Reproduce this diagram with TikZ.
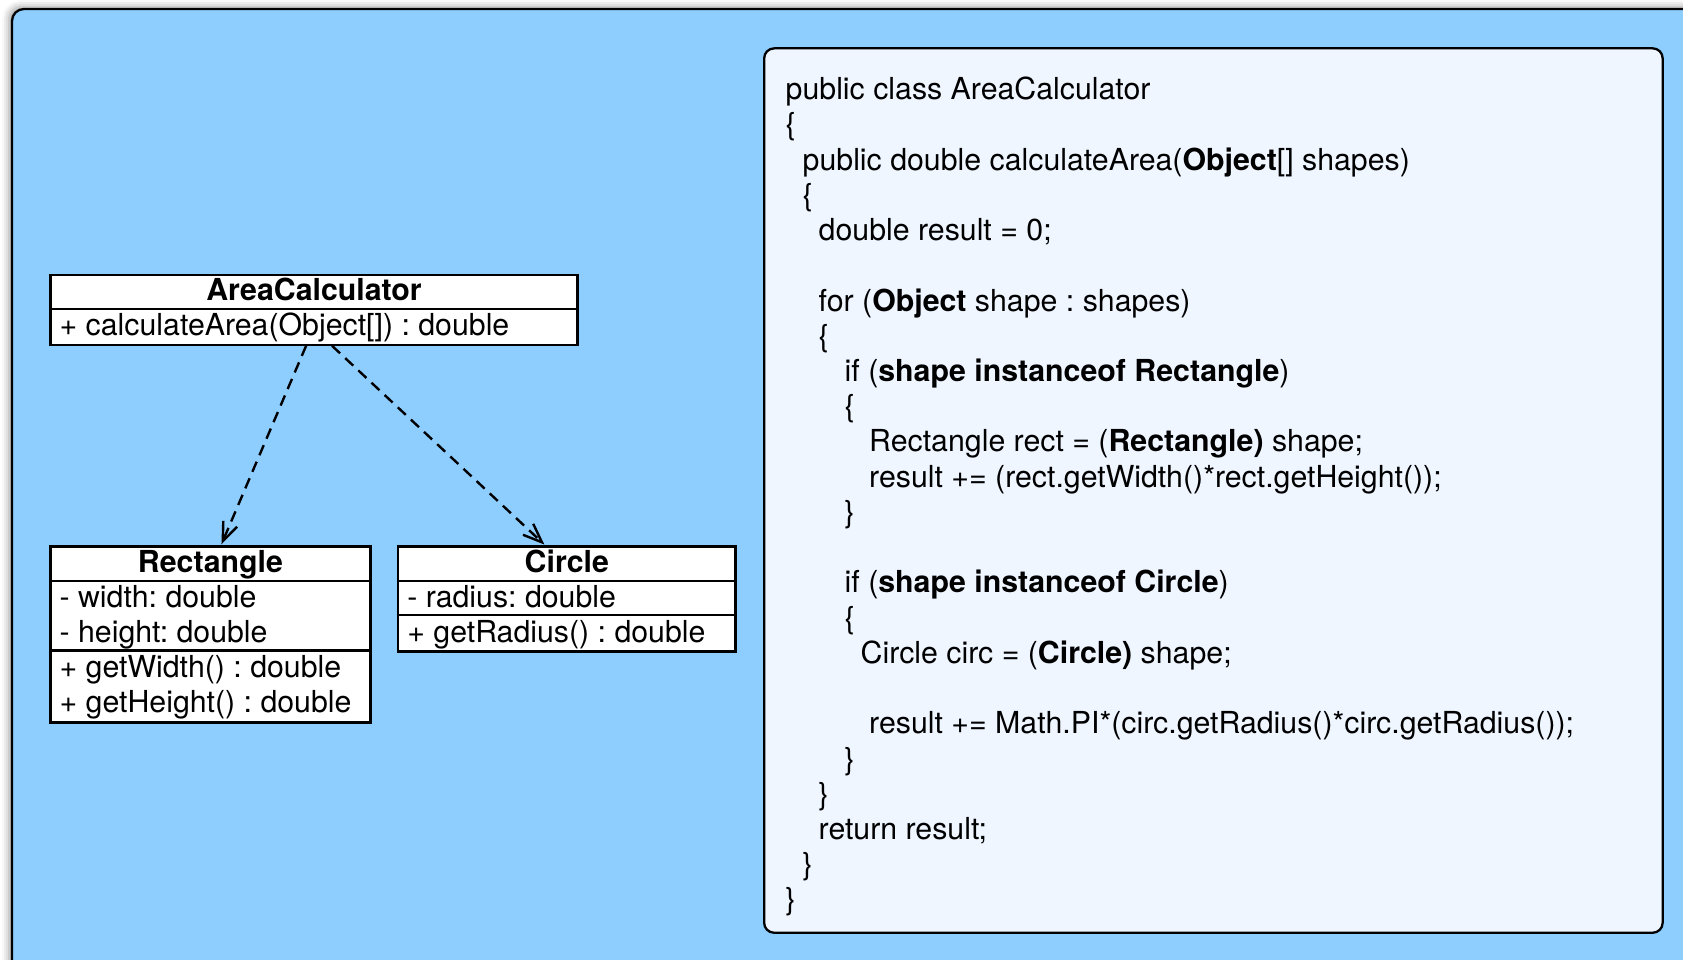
\documentclass[tikz,border=0pt]{standalone}
\usepackage{fontspec}
\setmainfont{TeX Gyre Heros}
\usetikzlibrary{arrows.meta,shadows.blur,calc}
\definecolor{bgblue}{RGB}{142,206,255}
\definecolor{codebg}{RGB}{239,246,255}
\frenchspacing
\begin{document}
\begin{tikzpicture}[x=1pt,y=-1pt,
  umlbox/.style={draw=black,line width=2.3pt,fill=white,inner sep=0pt,anchor=north west},
  umltitle/.style={font=\fontsize{30.3}{36}\selectfont\bfseries,inner sep=0pt,anchor=base},
  umltext/.style={font=\fontsize{30.3}{36}\selectfont,inner sep=0pt,anchor=base west},
  divider/.style={draw=black,line width=2.3pt},
  codeline/.style={font=\fontsize{30.3}{36}\selectfont,inner sep=0pt,anchor=base west},
  dep/.style={draw=black,line width=2.4pt,dash pattern=on 11pt off 7pt,shorten >=1pt,
    -{Straight Barb[length=19pt,width=15pt,line width=2.4pt]}}
]
\useasboundingbox (0,0) rectangle (1683,960);
\clip (0,0) rectangle (1683,960);
% outer frame
\draw[fill=bgblue,line width=2.3pt,rounded corners=12pt,
  blur shadow={shadow xshift=-3pt,shadow yshift=2pt,shadow blur radius=7pt}]
  (12,9) rectangle (1730,1010);
% code box
\node[draw=black,line width=2.3pt,fill=codebg,rounded corners=10pt,inner sep=0pt,
  anchor=north west,minimum width=898.5pt,minimum height=884.4pt] (code) at (763,47.2) {};
\node[codeline] (c0)  at (785.5,99.6)  {public class AreaCalculator};
\node[codeline] (c1)  at (785.5,134.8) {\{};
\node[codeline] (c2)  at (802.5,170.1) {public double calculateArea(\textbf{Object}[] shapes)};
\node[codeline] (c3)  at (802.5,205.3) {\{};
\node[codeline] (c4)  at (818.5,240.5) {double result = 0;};
\node[codeline] (c6)  at (818.5,311.0) {for (\textbf{Object} shape : shapes)};
\node[codeline] (c7)  at (818.5,346.2) {\{};
\node[codeline] (c8)  at (844.5,381.4) {if (\textbf{shape instanceof Rectangle})};
\node[codeline] (c9)  at (844.5,416.7) {\{};
\node[codeline] (c10) at (869,451.9)   {Rectangle rect = (\textbf{Rectangle)} shape;};
\node[codeline] (c11) at (869,487.1)   {result += (rect.getWidth()*rect.getHeight());};
\node[codeline] (c12) at (844.5,522.4) {\}};
\node[codeline] (c14) at (844.5,592.8) {if (\textbf{shape instanceof Circle})};
\node[codeline] (c15) at (844.5,628.1) {\{};
\node[codeline] (c16) at (860.5,663.3) {Circle circ = (\textbf{Circle)} shape;};
\node[codeline] (c18) at (869,733.7)   {result += Math.PI*(circ.getRadius()*circ.getRadius());};
\node[codeline] (c19) at (844.5,769.0) {\}};
\node[codeline] (c20) at (818.5,804.2) {\}};
\node[codeline] (c21) at (818.5,839.4) {return result;};
\node[codeline] (c22) at (802.5,874.7) {\}};
\node[codeline] (c23) at (785.5,909.9) {\}};
% AreaCalculator class
\node[umlbox,minimum width=527pt,minimum height=69.8pt] (ac) at (49.4,273.7) {};
\draw[divider] ($(ac.north west)+(0,35.3)$) -- ($(ac.north east)+(0,35.3)$);
\node[umltitle] (actitle) at ($(ac.north)+(0,27)$) {AreaCalculator};
\node[umltext] (acm1) at ($(ac.north west)+(10,62)$) {+ calculateArea(Object[]) : double};
% Rectangle class
\node[umlbox,minimum width=319.8pt,minimum height=176.1pt] (rect) at (49.4,545.2) {};
\draw[divider] ($(rect.north west)+(0,35.5)$) -- ($(rect.north east)+(0,35.5)$);
\draw[divider] ($(rect.north west)+(0,105.2)$) -- ($(rect.north east)+(0,105.2)$);
\node[umltitle] (recttitle) at ($(rect.north)+(0,27.1)$) {Rectangle};
\node[umltext] (recta1) at ($(rect.north west)+(10,62.2)$) {- width: double};
\node[umltext] (recta2) at ($(rect.north west)+(10,97.1)$) {- height: double};
\node[umltext] (rectm1) at ($(rect.north west)+(10,132.2)$) {+ getWidth() : double};
\node[umltext] (rectm2) at ($(rect.north west)+(10,167.7)$) {+ getHeight() : double};
% Circle class
\node[umlbox,minimum width=337.1pt,minimum height=105.2pt] (circ) at (397.1,545.2) {};
\draw[divider] ($(circ.north west)+(0,35.5)$) -- ($(circ.north east)+(0,35.5)$);
\draw[divider] ($(circ.north west)+(0,69.8)$) -- ($(circ.north east)+(0,69.8)$);
\node[umltitle] (circtitle) at ($(circ.north)+(0,27.1)$) {Circle};
\node[umltext] (circa1) at ($(circ.north west)+(10,62)$) {- radius: double};
\node[umltext] (circm1) at ($(circ.north west)+(10,96.8)$) {+ getRadius() : double};
% dependencies
\draw[dep] ($(ac.south west)!0.485!(ac.south east)$) -- ($(rect.north west)!0.533!(rect.north east)$);
\draw[dep] ($(ac.south west)!0.534!(ac.south east)$) -- ($(circ.north west)!0.436!(circ.north east)$);
\end{tikzpicture}
\end{document}
